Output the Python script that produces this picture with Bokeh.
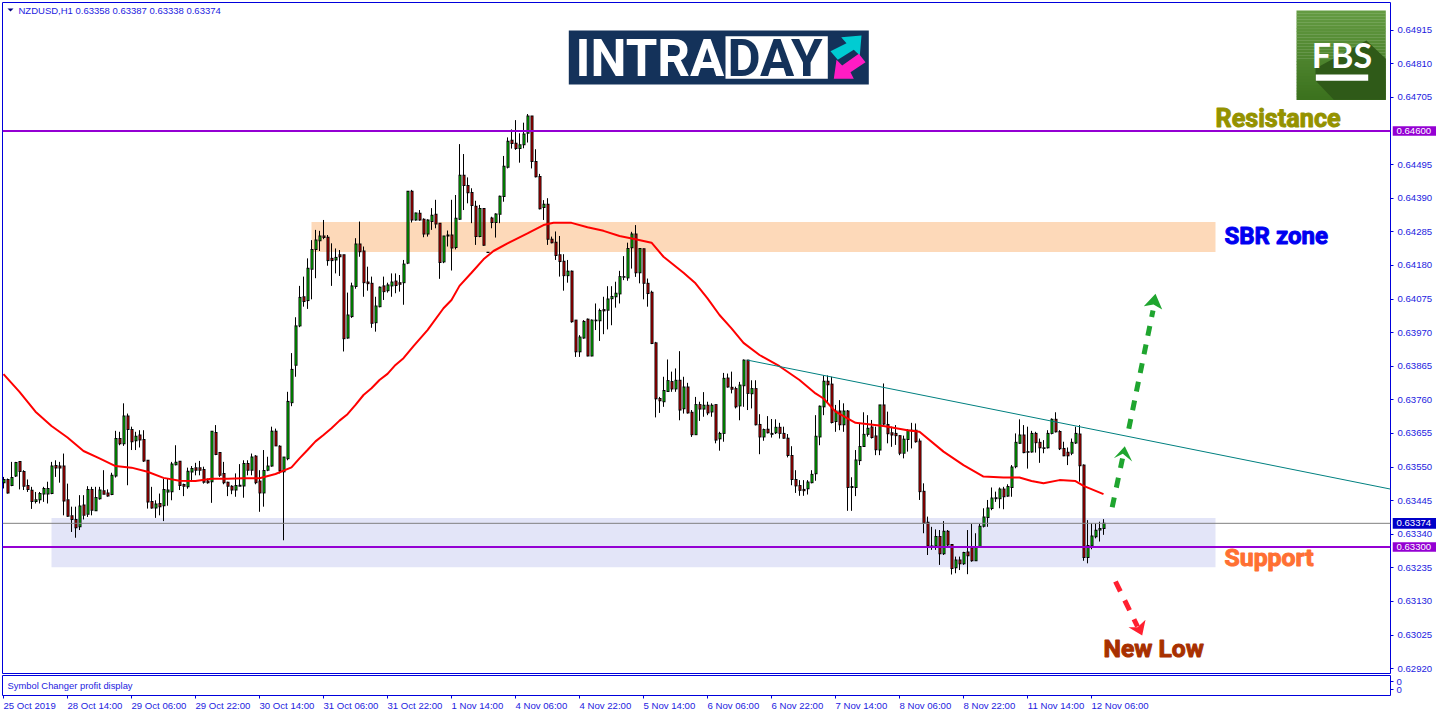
from bokeh.plotting import figure
from bokeh.layouts import column
from bokeh.models import Label, FixedTicker, Range1d
from bokeh.core.properties import value
from bokeh.embed import file_html
from bokeh.resources import INLINE

# hourly candles, prices in 1e-5 units
open_ = [63501,63511,63492,63522,63567,63536,63492,63477,63442,63448,63466,63466,63467,63555,63553,63553,63448,63398,63386,63363,
63431,63402,63480,63413,63451,63476,63469,63464,63522,63639,63623,63709,63667,63632,63650,63636,63571,63442,63422,63436,
63429,63472,63473,63557,63568,63495,63488,63534,63548,63548,63542,63506,63504,63658,63595,63530,63502,63490,63478,63490,
63491,63561,63540,63584,63506,63469,63540,63553,63662,63615,63535,63576,63751,63868,63991,64082,64070,64168,64230,64257,
64272,64268,64202,64197,64213,64213,63953,64020,64114,64247,64225,64128,64124,64001,64051,64116,64101,64116,64131,64126,
64126,64187,64412,64322,64343,64324,64278,64317,64340,64312,64191,64272,64275,64236,64324,64462,64430,64408,64365,64270,
64358,64221,64328,64314,64340,64395,64487,64571,64562,64545,64557,64593,64647,64505,64458,64361,64371,64262,64252,64213,
64193,64148,64162,64009,63910,63953,64012,63897,64009,64007,64042,64040,64076,64082,64091,64145,64141,64235,64278,64157,
64232,64124,64096,63938,63764,63754,63786,63817,63794,63821,63732,63800,63721,63651,63745,63731,63743,63722,63745,63638,
63655,63828,63799,63795,63741,63804,63884,63779,63795,63683,63644,63668,63655,63657,63674,63655,63640,63586,63511,63492,
63480,63482,63501,63529,63644,63738,63818,63809,63692,63725,63682,63725,63489,63486,63570,63614,63652,63675,63647,63603,
63744,63683,63657,63655,63648,63593,63636,63663,63665,63631,63474,63377,63303,63303,63333,63279,63349,63308,63235,63259,
63248,63284,63298,63257,63301,63365,63392,63420,63451,63451,63481,63459,63486,63551,63624,63650,63598,63597,63655,63627,
63610,63610,63655,63699,63661,63608,63596,63593,63625,63653,63556,63267,63303,63332,63353,63358]
high = [63519,63514,63566,63566,63567,63540,63511,63488,63472,63472,63488,63504,63566,63571,63566,63592,63498,63426,63426,63462,
63462,63490,63488,63488,63488,63540,63480,63532,63663,63660,63749,63717,63676,63660,63665,63665,63571,63488,63446,63467,
63514,63514,63566,63618,63568,63498,63548,63553,63563,63569,63551,63514,63662,63681,63597,63566,63504,63493,63530,63559,
63571,63571,63592,63587,63540,63603,63582,63676,63670,63618,63581,63785,63906,64018,64116,64145,64202,64259,64291,64288,
64322,64275,64249,64233,64228,64213,64095,64126,64265,64317,64239,64176,64145,64082,64114,64145,64126,64155,64155,64150,
64197,64412,64416,64345,64353,64327,64324,64359,64385,64312,64272,64289,64385,64400,64559,64528,64455,64421,64382,64369,
64358,64222,64332,64343,64398,64522,64580,64605,64634,64593,64626,64653,64647,64543,64466,64384,64390,64270,64286,64272,
64215,64197,64164,64009,63962,64009,64014,64011,64061,64045,64082,64115,64115,64129,64163,64209,64251,64285,64306,64233,
64233,64139,64101,63941,63769,63832,63886,63848,63858,63912,63832,63813,63728,63769,63754,63784,63754,63749,63745,63660,
63844,63842,63848,63801,63816,63886,63884,63821,63821,63715,63670,63709,63700,63699,63688,63676,63653,63615,63540,63509,
63509,63509,63540,63712,63742,63836,63836,63832,63744,63759,63749,63728,63518,63603,63688,63721,63712,63697,63676,63744,
63811,63723,63676,63681,63650,63648,63668,63688,63686,63639,63499,63395,63363,63355,63353,63381,63353,63308,63270,63270,
63285,63353,63372,63343,63372,63421,63447,63486,63473,63486,63488,63496,63556,63655,63699,63681,63676,63663,63660,63639,
63634,63665,63702,63721,63665,63629,63611,63639,63676,63681,63558,63384,63374,63374,63379,63387]
low = [63483,63467,63490,63519,63480,63478,63472,63419,63436,63436,63441,63436,63465,63519,63501,63399,63394,63347,63329,63353,
63386,63394,63399,63413,63448,63465,63457,63462,63517,63618,63616,63493,63603,63603,63611,63566,63420,63420,63391,63399,
63381,63429,63446,63555,63478,63459,63482,63504,63524,63524,63498,63498,63438,63587,63519,63496,63459,63465,63457,63490,
63454,63524,63524,63496,63410,63426,63537,63551,63616,63530,63321,63571,63740,63832,63987,64051,64044,64074,64140,64225,
64262,64179,64116,64155,64147,63911,63951,64016,64107,64207,64082,64101,63985,63973,64049,64072,64095,64082,64093,64098,
64057,64184,64314,64320,64320,64268,64270,64291,64296,64138,64187,64239,64164,64230,64322,64353,64374,64312,64244,64268,
64241,64219,64296,64267,64312,64379,64483,64545,64541,64501,64546,64564,64483,64455,64355,64322,64244,64249,64197,64145,
64101,64126,64001,63894,63894,63951,63896,63896,63978,63944,63965,63980,63993,64048,64061,64134,64132,64170,64144,64124,
64074,64051,63934,63705,63719,63738,63785,63785,63785,63696,63717,63717,63644,63651,63694,63707,63712,63707,63624,63601,
63629,63798,63780,63733,63696,63738,63728,63733,63680,63590,63632,63655,63642,63653,63639,63638,63580,63493,63469,63460,
63460,63464,63499,63507,63618,63712,63749,63686,63660,63665,63660,63413,63413,63459,63556,63613,63645,63639,63587,63587,
63681,63624,63613,63619,63587,63577,63598,63608,63626,63447,63343,63275,63291,63291,63244,63275,63303,63214,63218,63228,
63244,63215,63254,63257,63301,63361,63363,63415,63441,63421,63418,63457,63457,63546,63622,63593,63545,63595,63595,63563,
63593,63608,63652,63658,63603,63584,63556,63587,63622,63504,63257,63249,63293,63327,63317,63338]
close = [63511,63469,63517,63564,63536,63490,63480,63442,63448,63467,63483,63483,63553,63547,63547,63444,63396,63386,63360,63428,
63399,63480,63415,63455,63478,63465,63459,63524,63639,63623,63709,63667,63629,63646,63634,63569,63441,63422,63434,63426,
63480,63478,63559,63565,63492,63490,63537,63545,63540,63540,63502,63501,63662,63589,63524,63501,63490,63478,63492,63493,
63561,63540,63581,63501,63469,63539,63553,63662,63616,63538,63581,63755,63855,63991,64080,64067,64171,64230,64259,64272,
64267,64195,64195,64205,64207,63951,64025,64116,64247,64223,64126,64123,63999,64053,64112,64098,64119,64128,64117,64121,
64184,64412,64322,64344,64322,64278,64322,64337,64309,64189,64272,64275,64234,64327,64462,64430,64407,64367,64270,64358,
64243,64220,64314,64341,64396,64490,64568,64561,64545,64557,64591,64647,64505,64457,64357,64371,64262,64251,64211,64192,
64148,64162,64004,63910,63956,64005,63897,64009,64007,64039,64038,64075,64083,64093,64145,64143,64233,64278,64157,64233,
64124,64092,63936,63763,63757,63789,63820,63794,63821,63728,63800,63719,63651,63745,63731,63743,63719,63743,63634,63655,
63827,63800,63793,63738,63806,63884,63780,63795,63682,63644,63667,63657,63652,63674,63655,63640,63586,63511,63491,63477,
63476,63503,63527,63646,63740,63818,63807,63689,63725,63682,63725,63486,63486,63572,63614,63652,63671,63642,63604,63744,
63684,63654,63650,63648,63593,63637,63665,63665,63629,63473,63374,63303,63300,63333,63279,63349,63306,63233,63259,63248,
63283,63273,63257,63301,63365,63394,63422,63453,63454,63481,63457,63489,63550,63627,63650,63595,63596,63655,63626,63610,
63608,63655,63699,63660,63607,63585,63585,63627,63655,63554,63267,63305,63334,63352,63358,63374]

# 50-period moving average, read at these candle numbers
ma_index = [0,4,8,12,16,20,24,28,32,36,40,44,48,52,56,60,64,68,72,74,76,78,80,82,84,86,88,90,92,94,96,98,100,
102.5,106,110,112,114,117,120,122.5,126,131,135,137.5,142,146,150,154,158,162,165,170,173,176,179,182,185,189,194,199,203,
205,208,213,220,226,229,235,240,245,250,254,257,260,264,268,270,275]
ma_value = [63840,63785,63723,63678,63642,63600,63577,63553,63548,63535,63516,63507,63506,63513,63513,63515,63515,63528,63549,63577,63603,63630,63650,63671,63695,63715,63744,63775,63796,63822,63841,63869,63890,
63928,63978,64046,64072,64116,64157,64199,64225,64249,64280,64306,64313,64313,64299,64288,64272,64262,64251,64207,64157,64124,64077,64025,63983,63938,63900,63865,63822,63780,
63764,63723,63688,63678,63665,63660,63598,63556,63520,63517,63517,63506,63499,63509,63506,63491,63465]

price_ticks = [64915,64810,64705,64495,64390,64285,64180,64075,63970,63865,63760,63655,63550,63445,63340,63235,63130,63025,62920]
date_labels = ["25 Oct 2019","28 Oct 14:00","29 Oct 06:00","29 Oct 22:00","30 Oct 14:00","31 Oct 06:00","31 Oct 22:00",
               "1 Nov 14:00","4 Nov 06:00","4 Nov 22:00","5 Nov 14:00","6 Nov 06:00","6 Nov 22:00","7 Nov 14:00",
               "8 Nov 06:00","8 Nov 22:00","11 Nov 14:00","12 Nov 06:00"]
resistance, support, last_price = 64600, 63300, 63374
sbr_zone = (64222, 64316)
support_zone = (63237, 63391)
trend_i, trend_p = [186, 346.75], [63884, 63481]

BLUE = "#0000dc"
TICK = "#1c1ce0"
PURPLE = "#9400d3"
FONT = "Liberation Sans"
F = 1e-5
HALF_PX = 1.5625   # half a pixel, in 1e-5 price units
BAR_SHIFT = 0.125  # half a pixel along the time scale, so filled bodies land on whole pixels

# decoration placement: page pixels to chart units
def dx(px): return (px - 3) / 4
def dy(py): return (64600 - (py - 130.5) * 3.125) * F

n = len(close)
idx = list(range(n))
p = figure(width=1436, height=674, output_backend="svg", toolbar_location=None,
           x_range=Range1d(dx(2), dx(1390)), y_range=Range1d(dy(673), dy(2)),
           x_axis_location=None, y_axis_location="right",
           min_border_left=2, min_border_right=46, min_border_top=2, min_border_bottom=1,
           background_fill_color="white", border_fill_color="white")
p.grid.visible = False
p.outline_line_color = BLUE
p.outline_line_width = 1
ax = p.yaxis[0]
ax.ticker = FixedTicker(ticks=[t * F for t in price_ticks])
ax.major_label_overrides = {t * F: f"{t*F:.5f}" for t in price_ticks}
ax.major_label_text_font = FONT
ax.major_label_text_font_size = "9.6px"
ax.major_label_text_color = TICK
ax.major_label_standoff = 4
ax.major_tick_in = 0
ax.major_tick_out = 3
ax.major_tick_line_color = BLUE
ax.minor_tick_line_color = None
ax.axis_line_color = None

# zones
p.quad(left=dx(51), right=dx(1215), bottom=support_zone[0]*F, top=support_zone[1]*F, fill_color="#e3e5f8", line_color=None)
p.quad(left=dx(311), right=dx(1215), bottom=sbr_zone[0]*F, top=sbr_zone[1]*F, fill_color="#fdd9b9", line_color=None)

# candles: wicks outside the body, black body 3 px wide, coloured core
tops = [max(o, c) for o, c in zip(open_, close)]
bots = [min(o, c) for o, c in zip(open_, close)]
p.segment(idx, [v*F for v in high], idx, [v*F for v in tops], line_color="black", line_width=1)
p.segment(idx, [v*F for v in bots], idx, [v*F for v in low], line_color="black", line_width=1)
p.vbar(x=[i + BAR_SHIFT for i in idx], width=0.75, top=[t*F + HALF_PX*F for t in tops], bottom=[b*F - HALF_PX*F for b in bots],
       fill_color="black", line_color=None)
core = [i for i in idx if tops[i] - bots[i] > 2 * HALF_PX]
p.vbar(x=[i + BAR_SHIFT for i in core], width=0.25, top=[(tops[i] - HALF_PX)*F for i in core], bottom=[(bots[i] + HALF_PX)*F for i in core],
       fill_color=["#00f000" if close[i] >= open_[i] else "#f00000" for i in core], line_color=None)

# levels, average, trend
xa, xb = dx(2), dx(1390)
p.line([xa, xb], [last_price*F]*2, line_color="#808080", line_width=1)
p.line(ma_index, [v*F for v in ma_value], line_color="#ff0000", line_width=2)
p.line(trend_i, [v*F for v in trend_p], line_color="#008080", line_width=1)
p.line([xa, xb], [resistance*F]*2, line_color=PURPLE, line_width=2)
p.line([xa, xb], [support*F]*2, line_color=PURPLE, line_width=2)

def poly(fig, pts, color):
    fig.patch([dx(a) for a, b in pts], [dy(b) for a, b in pts], fill_color=color, line_color=None)

def stroke(fig, a, b, color, width, dash):
    fig.line([dx(a[0]), dx(b[0])], [dy(a[1]), dy(b[1])], line_color=color, line_width=width, line_dash=dash)

# arrows
GREEN = "#1fa52f"
stroke(p, (1111.7, 506.7), (1122, 458), GREEN, 5, "10 10")
poly(p, [(1124.3, 445.7), (1113.3, 457.7), (1122.3, 453.3), (1131.7, 461)], GREEN)
stroke(p, (1128.3, 428.3), (1152.5, 310), GREEN, 5, "10 9")
poly(p, [(1155, 293.3), (1143.3, 305.7), (1153, 304), (1161.7, 309)], GREEN)
RED = "#ff2030"
stroke(p, (1115, 581), (1137, 626), RED, 5, "11 10")
poly(p, [(1141.7, 635), (1128, 626.7), (1137, 626.7), (1145, 619.3)], RED)

def lab(fig, px_, py_, txt, size, color, font=FONT, style="normal", align="left", base="middle", **kw):
    fig.add_layout(Label(x=dx(px_), y=dy(py_), text=txt, text_font=font, text_font_size=size,
                         text_color=color, text_font_style=style, text_align=align, text_baseline=base, **kw))

# labels in chart
lab(p, 1215, 118, "Resistance", "25.2px", "#949200", "Roboto", "bold", text_outline_color="#949200")
lab(p, 1224, 235, "SBR zone", "24px", "#0000f0", "Roboto", "bold", text_outline_color="#0000f0")
lab(p, 1224, 557, "Support", "24.8px", "#ff7033", "Roboto", "bold", text_outline_color="#ff7033")
lab(p, 1103, 648, "New Low", "24.7px", "#a83000", "Roboto", "bold", text_outline_color="#a83000")

# header
poly(p, [(7, 8), (13, 8), (10, 11)], "#000080")
lab(p, 18, 10, "NZDUSD,H1  0.63358 0.63387 0.63338 0.63374", "9.5px", TICK)

# banner
p.quad(left=dx(568.3), right=dx(868.3), bottom=dy(84), top=dy(30), fill_color="#14325a", line_color=None)
p.quad(left=dx(725), right=dx(827.3), bottom=dy(78.3), top=dy(35.7), fill_color="white", line_color=None)
lab(p, 575, 58, "INTRA", "51px", "white", "Roboto", "bold")
lab(p, 727, 58, "DAY", "51px", "#14325a", "Roboto", "bold")
poly(p, [(840.7, 36.7), (861, 35), (859.3, 55), (853.3, 49.3), (837.3, 59.3), (830, 50.7), (846, 42.7)], "#00ccd2")
poly(p, [(858.3, 53.3), (865, 61.7), (850, 71.7), (853.3, 78.3), (833.3, 78.3), (836, 59.3), (841.7, 65)], "#ff1cc4")

# FBS badge
steps = 30
for k in range(steps):
    t = k / (steps - 1)
    col = "#%02x%02x%02x" % (int(0x64 + t*(0x3c-0x64)), int(0x9b + t*(0x72-0x9b)), int(0x42 + t*(0x1e-0x42)))
    y0 = 10 + 89.3*k/steps
    p.quad(left=dx(1296), right=dx(1385.3), top=dy(y0), bottom=dy(y0 + 89.3/steps + .3), fill_color=col, line_color=None)
poly(p, [(1366, 40), (1385.3, 58.3), (1385.3, 99.3), (1333.3, 99.3), (1315, 80), (1315, 68)], "#2f5a18")
p.quad(left=dx(1315.3), right=dx(1367.7), bottom=dy(80.3), top=dy(74), fill_color="white", line_color=None)
lab(p, 1341.5, 54, "FBS", "34px", "white", "Lato", "bold", align="center")

# lower pane with time axis
q = figure(width=1436, height=42, output_backend="svg", toolbar_location=None,
           x_range=p.x_range, y_range=Range1d(0, 1), x_axis_location="below", y_axis_location="right",
           min_border_left=2, min_border_right=46, min_border_top=1, min_border_bottom=21,
           background_fill_color="white", border_fill_color="white")
q.grid.visible = False
q.outline_line_color = BLUE
q.outline_line_width = 1

CW = {" ": 2.78, ":": 2.78, "O": 7.78, "c": 5.0, "t": 2.78, "N": 7.22, "o": 5.56, "v": 5.0}
def label_width(s, size=9.6):
    return sum(CW.get(ch, 5.56) for ch in s) * size / 10

xx = q.xaxis[0]
tick_i = [16 * k for k in range(len(date_labels))]
# axis labels are centred on their position, so they are placed half a width after each tick
label_pos = [round(t + label_width(s) / 8, 3) for t, s in zip(tick_i, date_labels)]
xx.ticker = FixedTicker(ticks=label_pos, minor_ticks=tick_i)
xx.major_label_overrides = dict(zip(label_pos, date_labels))
xx.major_label_text_font = FONT
xx.major_label_text_font_size = "9.6px"
xx.major_label_text_color = TICK
xx.major_label_standoff = 1
xx.major_tick_in = 0
xx.major_tick_out = 3
xx.major_tick_line_color = None
xx.minor_tick_in = 0
xx.minor_tick_out = 3
xx.minor_tick_line_color = BLUE
xx.axis_line_color = None
yy = q.yaxis[0]
yy.ticker = FixedTicker(ticks=[0.3, 0.68])
yy.major_label_overrides = {0.3: "0", 0.68: "0"}
yy.major_label_text_font = FONT
yy.major_label_text_font_size = "9.6px"
yy.major_label_text_color = TICK
yy.major_label_standoff = 3
yy.major_tick_in = 0
yy.major_tick_out = 3
yy.major_tick_line_color = BLUE
yy.minor_tick_line_color = None
yy.axis_line_color = None
q.add_layout(Label(x=dx(7), y=0.5, text="Symbol Changer profit display", text_font=FONT, text_font_size="9.4px",
                   text_color=TICK, text_baseline="middle"))

# price flags: a small transparent figure laid over the right margin, sharing the price scale
flags = figure(width=44, height=674, output_backend="svg", toolbar_location=None,
               x_range=Range1d(0, 44), y_range=Range1d(p.y_range.start, p.y_range.end),
               x_axis_location=None, y_axis_location=None,
               min_border_left=0, min_border_right=0, min_border_top=2, min_border_bottom=1,
               background_fill_color=None, border_fill_color=None,
               styles={"position": "absolute", "left": "1392px", "top": "0px", "width": "44px", "height": "674px"})
flags.grid.visible = False
flags.outline_line_color = None
flag_prices = [resistance, last_price, support]
flag_colors = [PURPLE, "#0000c8", PURPLE]
flag_half = [15.0, 17.0, 15.0]
flags.quad(left=0, right=44, top=[(v + h)*F for v, h in zip(flag_prices, flag_half)],
           bottom=[(v - h)*F for v, h in zip(flag_prices, flag_half)], fill_color=flag_colors, line_color=None)
flags.text(x=[4, 4, 4], y=[v*F for v in flag_prices], text=[f"{v*F:.5f}" for v in flag_prices],
           text_font=value(FONT), text_font_size="9.6px", text_color="white", text_baseline="middle", text_align="left")

layout = column(p, q, spacing=0, styles={"position": "absolute", "left": "0px", "top": "0px"})
open("out.html", "w").write(file_html([layout, flags], INLINE))
